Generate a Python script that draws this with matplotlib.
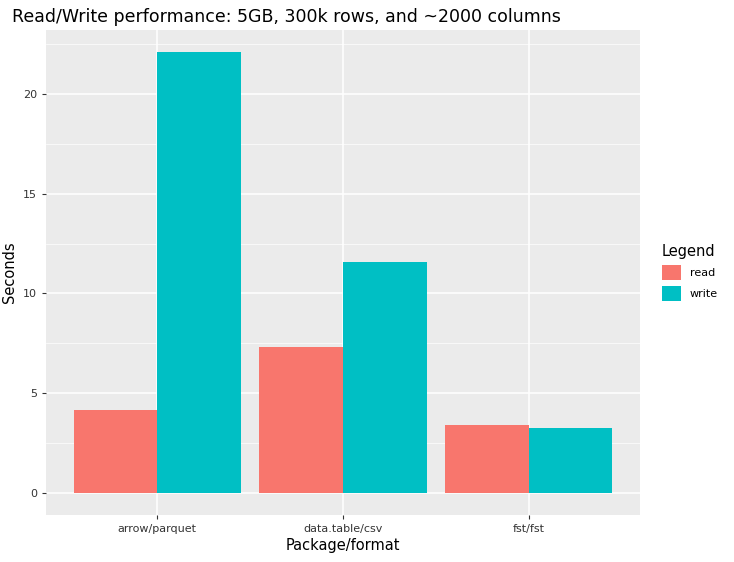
import matplotlib
matplotlib.use("Agg")
import matplotlib.pyplot as plt
import numpy as np

categories = ["arrow/parquet", "data.table/csv", "fst/fst"]
read_vals = [4.16, 7.32, 3.41]
write_vals = [22.1, 11.58, 3.26]
series = ["read", "write"]
colors = ["#F8766D", "#00BFC4"]

fig = plt.figure(figsize=(7.34, 5.62), dpi=100)
ax = fig.add_axes([46/734, 1-515/562, (640-46)/734, (515-30)/562])
ax.set_facecolor("#EBEBEB")
x = np.arange(len(categories))
w = 0.45
ax.bar(x - w/2, read_vals, w, color=colors[0], label=series[0], zorder=3)
ax.bar(x + w/2, write_vals, w, color=colors[1], label=series[1], zorder=3)
ax.set_xlim(-0.6, 2.6)
ax.set_ylim(-1.1, 23.2)
ax.set_yticks([0, 5, 10, 15, 20])
ax.set_yticks([2.5, 7.5, 12.5, 17.5, 22.5], minor=True)
ax.set_xticks(x)
ax.set_xticklabels(categories)
ax.grid(True, which="major", color="white", linewidth=1.1, zorder=0)
ax.grid(True, which="minor", axis="y", color="white", linewidth=0.5, zorder=0)
for s in ax.spines.values():
    s.set_visible(False)
ax.tick_params(axis="both", which="major", colors="#333333", labelsize=8, length=3, color="#333333")
ax.tick_params(axis="y", which="minor", length=0)
ax.set_xlabel("Package/format", fontsize=10.5, labelpad=3)
ax.set_ylabel("Seconds", fontsize=10.5)
fig.text(12/734, 1-17/562, "Read/Write performance: 5GB, 300k rows, and ~2000 columns",
         fontsize=12.5, va="center", ha="left")
leg = ax.legend(title="Legend", loc="center left", bbox_to_anchor=(1.02, 0.5), frameon=False,
                fontsize=8, title_fontsize=10.5, handlelength=1.7, handleheight=1.7)
leg._legend_box.align = "left"
fig.savefig("out.png", dpi=100)
